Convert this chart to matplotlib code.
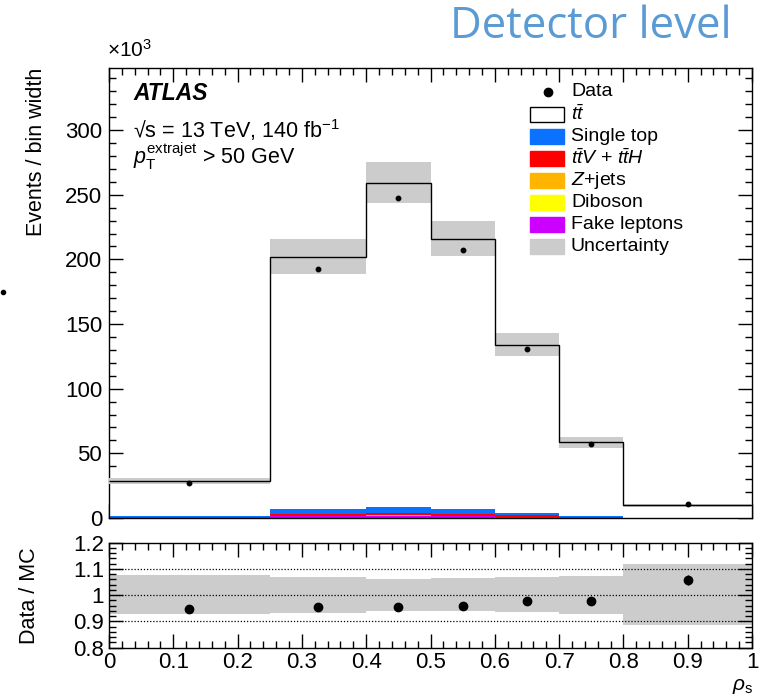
import matplotlib
matplotlib.use("Agg")
import matplotlib.pyplot as plt
import numpy as np
from matplotlib.patches import Rectangle
from matplotlib.lines import Line2D
from matplotlib.ticker import MultipleLocator

plt.rcParams['font.family'] = ['Liberation Sans', 'DejaVu Sans']
plt.rcParams['mathtext.fontset'] = 'custom'
plt.rcParams['mathtext.rm'] = 'Liberation Sans'
plt.rcParams['mathtext.it'] = 'Liberation Sans:italic'
plt.rcParams['mathtext.bf'] = 'Liberation Sans:bold'

# ---------------- data (x10^3 events / bin width) ----------------
bin_edges = [0.0, 0.25, 0.4, 0.5, 0.6, 0.7, 0.8, 1.0]
bin_centers = [0.125, 0.325, 0.45, 0.55, 0.65, 0.75, 0.9]

fake_leptons = [0.6, 1.5, 1.8, 1.4, 0.9, 0.4, 0.1]
diboson = [0.05, 0.1, 0.1, 0.1, 0.05, 0.02, 0.01]
zjets = [0.1, 0.3, 0.4, 0.3, 0.2, 0.1, 0.02]
ttv_tth = [0.2, 1.5, 1.8, 1.4, 0.8, 0.3, 0.05]
single_top = [0.6, 3.3, 4.7, 3.5, 2.2, 1.0, 0.1]
ttbar = [27.05, 195.3, 250.2, 209.3, 129.85, 56.7, 9.72]

data = [27.06, 192.9, 247.3, 207.4, 130.9, 57.3, 10.57]
data_err = [0.3, 0.9, 1.3, 1.2, 0.9, 0.6, 0.2]

unc_hi = [1.077, 1.068, 1.063, 1.064, 1.068, 1.074, 1.118]
unc_lo = [0.928, 0.933, 0.941, 0.939, 0.935, 0.927, 0.887]

legend_labels = ["Data", r"$t\bar{t}$", "Single top", r"$t\bar{t}V$ + $t\bar{t}H$",
                 r"$Z$+jets", "Diboson", "Fake leptons", "Uncertainty"]

# ---------------- colours ----------------
c_fake = '#cc00ff'
c_dib = '#ffff00'
c_z = '#ffb400'
c_ttv = '#ff0000'
c_st = '#0a72ff'
c_unc = '#cccccc'

W, H = 762, 695
fig = plt.figure(figsize=(W / 100, H / 100), dpi=100)

def fx(px):
    return px / W

def fy(py):
    return 1 - py / H

ax = fig.add_axes([fx(109), fy(518), fx(752) - fx(109), fy(68) - fy(518)])
rax = fig.add_axes([fx(109), fy(647.7), fx(752) - fx(109), fy(542.7) - fy(647.7)])

edges = np.array(bin_edges)
comps = [(fake_leptons, c_fake), (diboson, c_dib), (zjets, c_z), (ttv_tth, c_ttv),
         (single_top, c_st), (ttbar, 'white')]
base = np.zeros(len(ttbar))
for vals, col in comps:
    v = np.array(vals)
    ax.stairs(base + v, edges, baseline=base, fill=True, color=col, lw=0, zorder=2)
    base = base + v
total = base

ax.stairs(total * np.array(unc_hi), edges, baseline=total * np.array(unc_lo),
          fill=True, color=c_unc, lw=0, zorder=3)
ax.stairs(total, edges, baseline=None, color='black', lw=1.0, zorder=4)
ax.errorbar(bin_centers, data, yerr=data_err, fmt='o', color='black', ms=3.2,
            elinewidth=1, capsize=0, zorder=5)

ax.set_xlim(0, 1)
ax.set_ylim(0, 348)
ax.yaxis.set_major_locator(MultipleLocator(50))
ax.yaxis.set_minor_locator(MultipleLocator(10))
ax.xaxis.set_major_locator(MultipleLocator(0.1))
ax.xaxis.set_minor_locator(MultipleLocator(0.02))
ax.tick_params(axis='both', which='both', direction='in', top=True, right=True)
ax.tick_params(which='major', length=10, width=1)
ax.tick_params(which='minor', length=5, width=1)
ax.tick_params(axis='y', labelsize=16, pad=5)
ax.tick_params(axis='x', labelbottom=False)
ax.set_ylabel("Events / bin width", fontsize=15.5, loc='top')
for s in ax.spines.values():
    s.set_linewidth(1.0)

# ratio panel
ratio = np.array(data) / total
ratio_err = np.array(data_err) / total
rax.stairs(unc_hi, edges, baseline=unc_lo, fill=True, color=c_unc, lw=0, zorder=1)
for yv in [0.9, 1.0, 1.1]:
    rax.axhline(yv, color='black', ls=(0, (1, 1.5)), lw=0.9, zorder=2)
rax.errorbar(bin_centers, ratio, yerr=ratio_err, fmt='o', color='black', ms=6,
             elinewidth=1, capsize=0, zorder=3)
rax.set_xlim(0, 1)
rax.set_ylim(0.8, 1.2)
rax.yaxis.set_minor_locator(MultipleLocator(0.02))
rax.xaxis.set_minor_locator(MultipleLocator(0.02))
rax.tick_params(axis='both', which='both', direction='in', top=True, right=True)
rax.tick_params(which='major', length=10, width=1)
rax.tick_params(which='minor', length=5, width=1)
rax.tick_params(axis='both', labelsize=16)
rax.tick_params(axis='x', pad=3)
rax.set_xticks([0, 0.1, 0.2, 0.3, 0.4, 0.5, 0.6, 0.7, 0.8, 0.9, 1.0])
rax.set_xticklabels(['0', '0.1', '0.2', '0.3', '0.4', '0.5', '0.6', '0.7', '0.8', '0.9', '1'])
rax.set_yticks([0.8, 0.9, 1.0, 1.1, 1.2])
rax.set_yticklabels(['0.8', '0.9', '1', '1.1', '1.2'])
rax.set_ylabel("Data / MC", fontsize=15.5)
for s in rax.spines.values():
    s.set_linewidth(1.0)
fig.text(fx(753), fy(687), r"$\rho_{\mathrm{s}}$", fontsize=15, ha='right', va='center')

# y label positions
ax.yaxis.set_label_coords(-0.096, 1.0)
rax.yaxis.set_label_coords(-0.108, 0.5)

# texts
fig.text(fx(107), fy(50), r"$\times$10$^{3}$", fontsize=15, ha='left', va='center')
fig.text(fx(133), fy(94), "ATLAS", fontsize=16.5, fontweight='bold', fontstyle='italic',
         ha='left', va='center')
fig.text(fx(133), fy(130), "\u221As = 13 TeV, 140 fb$^{-1}$", fontsize=15.5,
         ha='left', va='center')
fig.text(fx(133), fy(156), r"$p_{\mathrm{T}}^{\mathrm{extrajet}}$ > 50 GeV", fontsize=15.5,
         ha='left', va='center')
fig.text(fx(591), fy(27), "Detector level", fontsize=31.5, color='#5b9bd5',
         family=['Open Sans', 'DejaVu Sans'], ha='center', va='center')

# legend (manual)
leg_y = [91.7, 114, 136.5, 158.5, 180.5, 202.5, 224.5, 246.5]
box_cols = [None, 'white', c_st, c_ttv, c_z, c_dib, c_fake, c_unc]
for i, (lab, yy) in enumerate(zip(legend_labels, leg_y)):
    if i == 0:
        fig.add_artist(Line2D([fx(548)], [fy(yy)], marker='o', color='black', ms=6,
                              transform=fig.transFigure))
    else:
        ec = 'black' if i == 1 else box_cols[i]
        fig.add_artist(Rectangle((fx(530), fy(yy + 7.5)), fx(564) - fx(530), 15 / H,
                                 facecolor=box_cols[i], edgecolor=ec, lw=1.0,
                                 transform=fig.transFigure))
    fig.text(fx(571), fy(yy), lab, fontsize=14, ha='left', va='center')

# stray bullet at left edge
fig.add_artist(Line2D([fx(3)], [fy(292)], marker='o', color='black', ms=3,
                      transform=fig.transFigure))

fig.savefig("out.png", dpi=100)
